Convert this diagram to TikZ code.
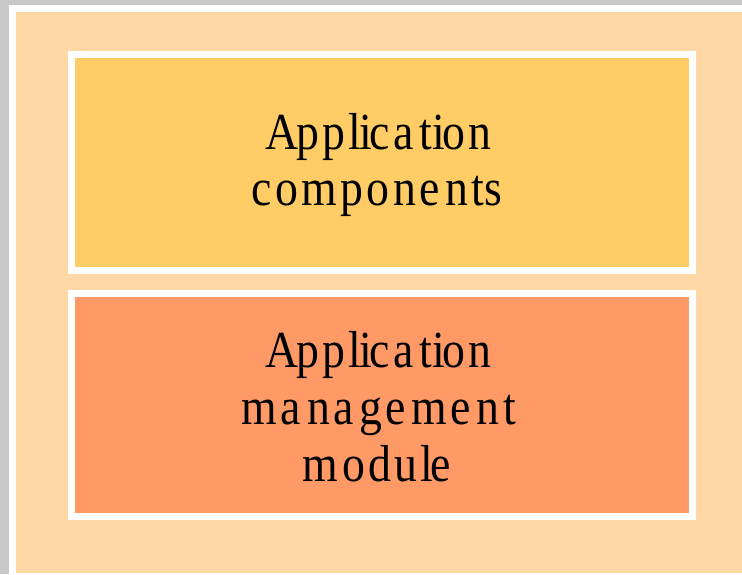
\documentclass[tikz,border=0pt]{standalone}
\usepackage{fontspec}
\newfontfamily\serifglyphs[FakeStretch=0.88]{Liberation Serif}
\newfontfamily\sansmetrics{Liberation Sans}
\definecolor{pagegray}{HTML}{C8C8C8}
\definecolor{bgorange}{HTML}{FFD8A6}
\definecolor{compyellow}{HTML}{FFCC66}
\definecolor{mgmtorange}{HTML}{FF9966}
% each glyph of the serif face is set on the advance width of the sans face
\newcommand\myGlyph[1]{\setbox0\hbox{\fontsize{47}{46}\sansmetrics #1}\makebox[\wd0][l]{\fontsize{52}{56}\serifglyphs #1}}
\newcommand\mySpread[1]{\mySpreadLoop#1\relax}
\def\mySpreadLoop#1{\ifx#1\relax\else\myGlyph{#1}\expandafter\mySpreadLoop\fi}
\begin{document}
\begin{tikzpicture}[x=1pt,y=-1pt,
  layerbox/.style={draw=white, line width=7pt, minimum width=621pt, inner sep=0pt},
  wordline/.style={anchor=base, inner sep=0pt, text=black, font=\fontsize{52}{56}\serifglyphs}]
\useasboundingbox (0,0) rectangle (742,574);
\fill[pagegray] (0,0) rectangle (742,574);
\fill[white] (9,5) rectangle (742,574);
\fill[bgorange] (16,12) rectangle (742,573);
\node[layerbox, fill=compyellow, minimum height=215.5pt] (components) at (382,162.25) {};
\node[layerbox, fill=mgmtorange, minimum height=222.5pt] (management) at (382,404.75) {};
\node[wordline] (compA) at (380,149) {\mySpread{Application}};
\node[wordline] (compB) at (380,205) {\mySpread{components}};
\node[wordline] (mgmtA) at (380,367) {\mySpread{Application}};
\node[wordline] (mgmtB) at (379,424) {\mySpread{management}};
\node[wordline] (mgmtC) at (380,481) {\mySpread{module}};
\end{tikzpicture}
\end{document}
